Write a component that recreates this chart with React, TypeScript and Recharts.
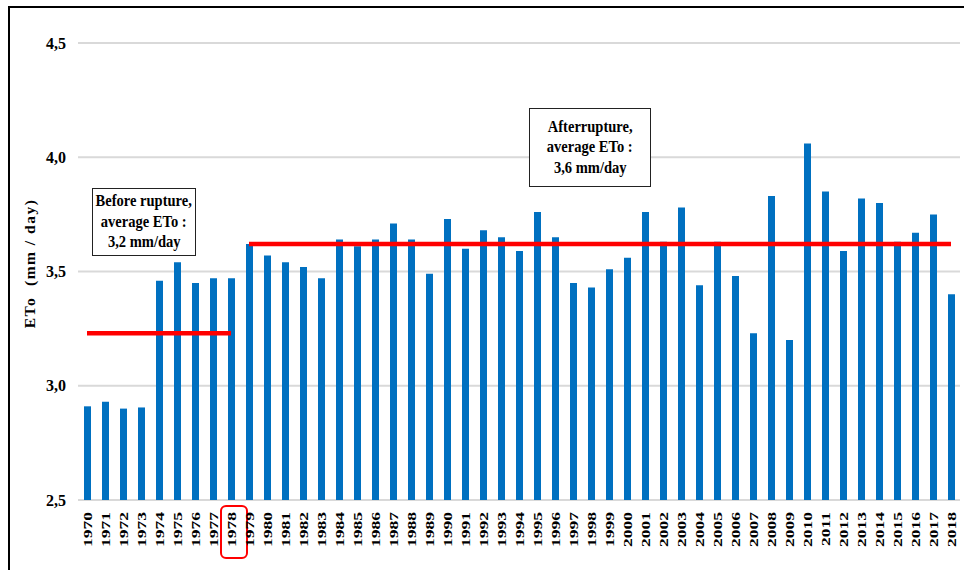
import React from 'react';
import { ComposedChart, Bar, Line, XAxis, YAxis, CartesianGrid } from 'recharts';

const years: string[] = [
  '1970','1971','1972','1973','1974','1975','1976','1977','1978','1979',
  '1980','1981','1982','1983','1984','1985','1986','1987','1988','1989',
  '1990','1991','1992','1993','1994','1995','1996','1997','1998','1999',
  '2000','2001','2002','2003','2004','2005','2006','2007','2008','2009',
  '2010','2011','2012','2013','2014','2015','2016','2017','2018',
];

const eto: number[] = [
  2.91, 2.93, 2.90, 2.905, 3.46, 3.54, 3.45, 3.47, 3.47, 3.62,
  3.57, 3.54, 3.52, 3.47, 3.64, 3.61, 3.64, 3.71, 3.64, 3.49,
  3.73, 3.60, 3.68, 3.65, 3.59, 3.76, 3.65, 3.45, 3.43, 3.51,
  3.56, 3.76, 3.63, 3.78, 3.44, 3.63, 3.48, 3.23, 3.83, 3.20,
  4.06, 3.85, 3.59, 3.82, 3.80, 3.63, 3.67, 3.75, 3.40,
];

const yTicks: number[] = [2.5, 3.0, 3.5, 4.0, 4.5];
const ruptureYear = '1978';
const beforeMean = 3.23;
const afterMean = 3.62;

const data = years.map((y, i) => ({
  year: y,
  eto: eto[i],
  before: Number(y) <= Number(ruptureYear) ? beforeMean : null,
  after: Number(y) > Number(ruptureYear) ? afterMean : null,
}));

const FONT = '"Liberation Serif", "Times New Roman", serif';

const XTick = (props: any) => {
  const { x, y, payload } = props;
  const sx = 1.3;
  return (
    <g transform={`translate(${x},${y})`}>
      {payload.value === ruptureYear && (
        <rect x={-10} y={6} width={26} height={52} rx={5} ry={5} fill="none" stroke="#ff0000" strokeWidth={2} />
      )}
      <g transform={`rotate(-90) scale(${sx},1)`}>
        <text x={-12 / sx} y={0} dy="0.36em" textAnchor="end" fontFamily={FONT} fontWeight="bold" fontSize={13.5} fill="#000">
          {payload.value}
        </text>
      </g>
    </g>
  );
};

const YTick = (props: any) => {
  const { y, payload } = props;
  return (
    <text x={66} y={y} dy="0.35em" textAnchor="end" fontFamily={FONT} fontWeight="bold" fontSize={16} fill="#000">
      {Number(payload.value).toFixed(1).replace('.', ',')}
    </text>
  );
};

const YLabel = (props: any) => {
  const { viewBox } = props;
  const cy = viewBox.y + viewBox.height / 2 - 8;
  return (
    <text x={30} y={cy} transform={`rotate(-90, 30, ${cy})`} textAnchor="middle" dy="0.35em" fontFamily={FONT} fontWeight="bold" fontSize={15.5} letterSpacing={1.5} fill="#000" style={{ whiteSpace: 'pre' }}>
      {'ETo  (mm / day)'}
    </text>
  );
};

const boxStyle: React.CSSProperties = {
  position: 'absolute',
  border: '1.5px solid #222',
  background: '#fff',
  fontFamily: FONT,
  fontWeight: 'bold',
  fontSize: 16.5,
  lineHeight: '20.5px',
  textAlign: 'center',
  color: '#000',
  boxSizing: 'border-box',
  display: 'flex',
  flexDirection: 'column',
  justifyContent: 'center',
  alignItems: 'center',
};

const lineStyle: React.CSSProperties = {
  whiteSpace: 'nowrap',
  transform: 'scaleX(0.88)',
};

export default function App() {
  return (
    <div style={{ position: 'absolute', left: 0, top: 0, width: 964, height: 570, background: '#fff', overflow: 'hidden' }}>
      <div style={{ position: 'absolute', left: 8, top: 6, width: 1000, height: 600, borderLeft: '2px solid #000', borderTop: '2px solid #000' }} />
      <ComposedChart width={964} height={570} data={data} margin={{ top: 43, right: 4, bottom: 10, left: 0 }} barCategoryGap={0}>
        <CartesianGrid vertical={false} stroke="#d9d9d9" strokeWidth={2} />
        <XAxis dataKey="year" interval={0} axisLine={false} tickLine={false} tickSize={0} tickMargin={0} height={60} tick={<XTick />} />
        <YAxis domain={[2.5, 4.5]} ticks={yTicks} width={78} axisLine={false} tickLine={false} tick={<YTick />} label={<YLabel />} />
        <Bar dataKey="eto" fill="#0070c0" barSize={7} isAnimationActive={false} />
        <Line dataKey="before" stroke="#ff0000" strokeWidth={4.5} dot={false} activeDot={false} isAnimationActive={false} connectNulls={false} />
        <Line dataKey="after" stroke="#ff0000" strokeWidth={4.5} dot={false} activeDot={false} isAnimationActive={false} connectNulls={false} />
      </ComposedChart>
      <div style={{ ...boxStyle, left: 92, top: 188, width: 104, height: 68 }}>
        <div style={lineStyle}>Before rupture,</div>
        <div style={lineStyle}>average ETo :</div>
        <div style={lineStyle}>3,2 mm/day</div>
      </div>
      <div style={{ ...boxStyle, left: 529, top: 108, width: 122, height: 79 }}>
        <div style={lineStyle}>Afterrupture,</div>
        <div style={lineStyle}>average ETo :</div>
        <div style={lineStyle}>3,6 mm/day</div>
      </div>
    </div>
  );
}
